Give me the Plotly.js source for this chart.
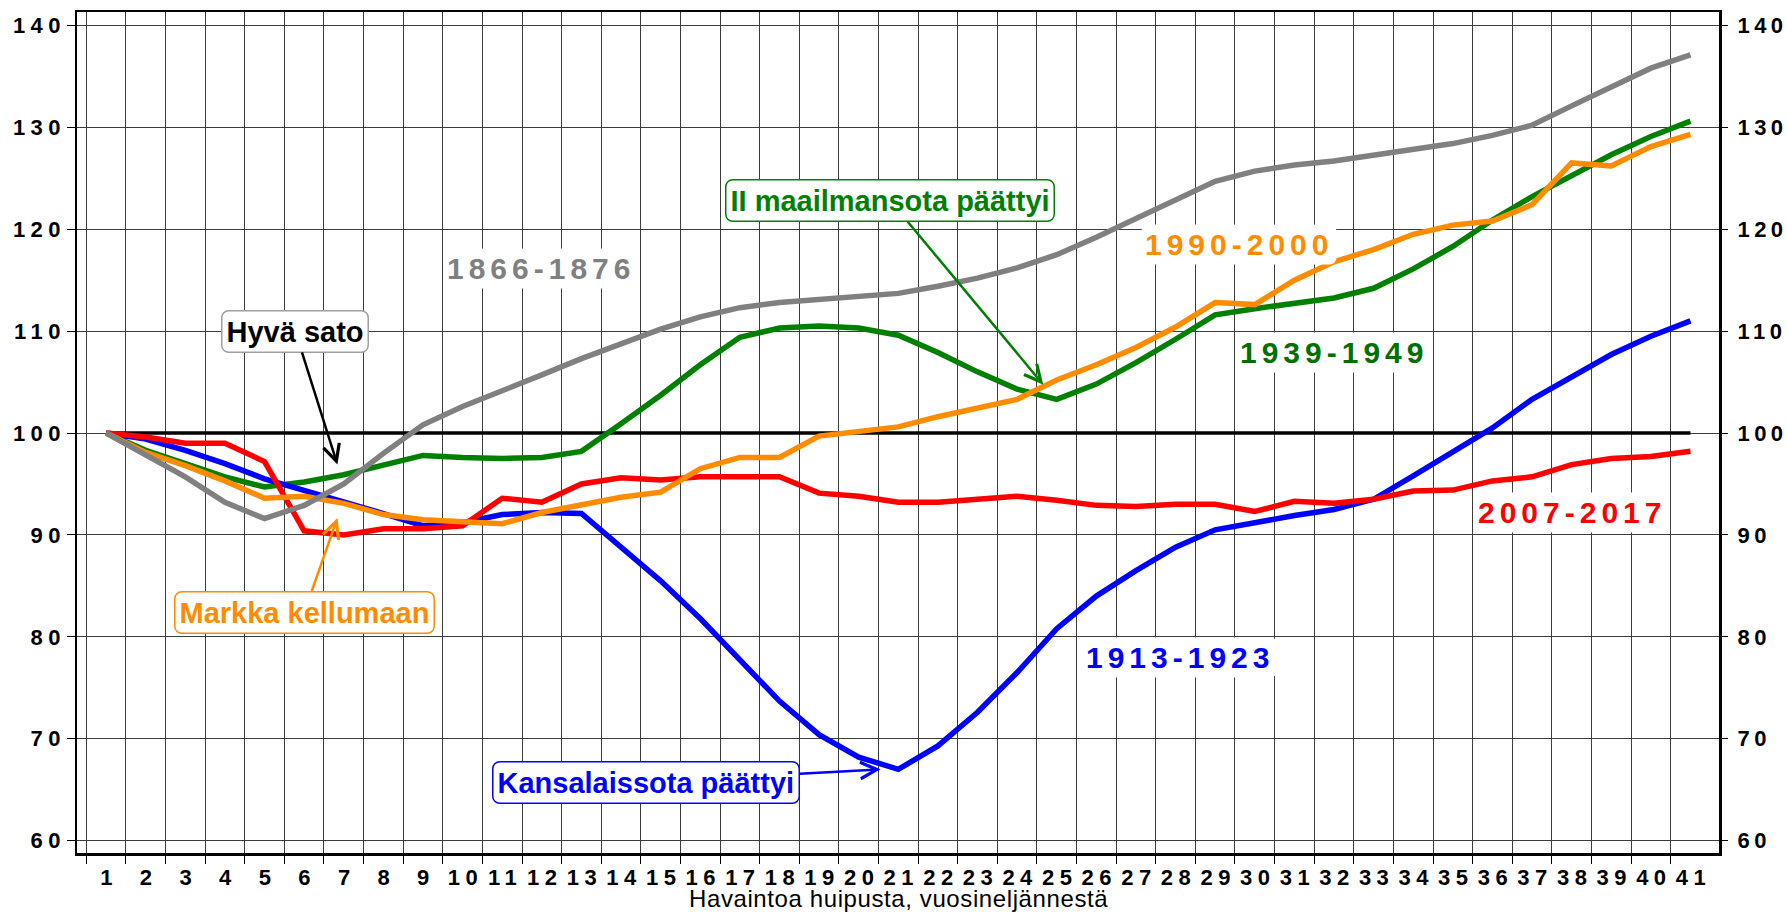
<!DOCTYPE html>
<html>
<head>
<meta charset="utf-8">
<script src="https://cdn.plot.ly/plotly-3.0.1.min.js"></script>
<style>
  body { margin: 0; background: #fff; }
  .ytick text, .x2tick text { letter-spacing: 5.5px; }
  .y2tick text { letter-spacing: 4.5px; }
  text.annotation-text[style*="font-size: 30px"] { letter-spacing: 5px; }
  text.annotation-text[style*="font-size: 24px"] { letter-spacing: 0.6px; }
  .annotation rect.bg { rx: 7px; ry: 7px; }
</style>
</head>
<body>
<div id="chart" style="width:1787px;height:913px;"></div>
<script>
// quarters counted from the peak
let quarters = [1,2,3,4,5,6,7,8,9,10,11,12,13,14,15,16,17,18,19,20,
  21,22,23,24,25,26,27,28,29,30,31,32,33,34,35,36,37,38,39,40,41];

let base = 100;

let p1866 = [100,97.8,95.7,93.2,91.6,92.9,95.0,98.0,100.8,102.6,104.1,105.7,107.3,108.8,110.2,111.4,
  112.3,112.8,113.1,113.4,113.7,114.4,115.2,116.2,117.5,119.2,121.0,122.9,124.7,125.7,126.3,
  126.7,127.3,127.9,128.4,129.2,130.2,132.1,134.0,135.8,137.1];

let p1913 = [100,99.4,98.3,97.0,95.5,94.4,93.2,92.1,90.9,91.2,92.0,92.2,92.1,88.8,85.5,81.8,
  77.7,73.7,70.4,68.2,67.0,69.3,72.6,76.5,80.8,84.0,86.5,88.8,90.5,91.25,91.9,
  92.5,93.5,95.8,98.2,100.5,103.3,105.5,107.7,109.5,111.0];

let p1939 = [100,98.3,97.0,95.7,94.7,95.2,95.9,96.9,97.8,97.6,97.5,97.6,98.2,100.9,103.7,106.7,
  109.4,110.3,110.5,110.3,109.6,107.9,106.0,104.3,103.3,104.8,106.9,109.2,111.6,112.2,112.7,
  113.25,114.2,116.1,118.3,120.9,123.2,125.3,127.3,129.1,130.6];

let p1990 = [100,98.1,96.8,95.3,93.6,93.8,93.1,92.0,91.5,91.3,91.1,92.2,92.9,93.7,94.2,96.5,
  97.6,97.6,99.7,100.1,100.6,101.6,102.5,103.3,105.2,106.7,108.4,110.4,112.8,112.6,115.0,
  116.8,118.0,119.5,120.4,120.8,122.4,126.5,126.2,128.1,129.3];

let p2007 = [100,99.6,99.0,99.0,97.2,90.4,90.0,90.6,90.6,90.9,93.6,93.2,95.0,95.6,95.4,95.7,
  95.7,95.7,94.1,93.8,93.2,93.2,93.5,93.8,93.4,92.9,92.8,93.0,93.0,92.3,93.3,
  93.1,93.5,94.3,94.4,95.3,95.7,96.9,97.5,97.7,98.2];

let yTicks = [60,70,80,90,100,110,120,130,140];

let font = 'Liberation Sans, Arial, Helvetica, sans-serif';
let xRange = [0.265, 41.72];
let yRange = [58.79, 141.31];

function line(y, color){
  return {
    x: quarters,
    y: y,
    type: 'scatter',
    mode: 'lines',
    line: {color: color, width: 5.5},
    xaxis: 'x2',
    yaxis: 'y2',
    hoverinfo: 'skip'
  };
}

let data = [
  {
    x: [quarters[0], quarters[quarters.length-1]],
    y: [base, base],
    type: 'scatter',
    mode: 'lines',
    line: {color: '#000', width: 3.5},
    hoverinfo: 'skip'
  },
  line(p1939, '#008000'),
  line(p1913, '#0000ff'),
  line(p2007, '#ff0000'),
  line(p1990, '#ff8c00'),
  line(p1866, '#808080')
];

function period(text, x, y, color){
  return {
    x: x, y: y, xref: 'x', yref: 'y', text: text, showarrow: false,
    font: {family: font, size: 30, color: color, weight: 'bold'},
    bgcolor: '#fff', borderpad: 3
  };
}

function callout(text, x, y, ax, ay, color, border){
  return {
    x: x, y: y, xref: 'x', yref: 'y', text: text,
    showarrow: true, ax: ax, ay: ay,
    arrowhead: 5, arrowsize: 1.3, arrowwidth: 2.5, arrowcolor: color,
    font: {family: font, size: 29, color: color, weight: 'bold'},
    bgcolor: '#fff', bordercolor: border, borderwidth: 1.5, borderpad: 4
  };
}

let tickFont = {family: font, size: 22, color: '#000', weight: 'bold'};

let layout = {
  width: 1787,
  height: 913,
  margin: {l: 77, r: 68, t: 12, b: 60},
  paper_bgcolor: '#fff',
  plot_bgcolor: '#fff',
  showlegend: false,
  xaxis: {
    range: xRange,
    tickvals: quarters.map(q => q - 0.5),
    showticklabels: false,
    ticks: 'outside', ticklen: 8, tickwidth: 1, tickcolor: '#000',
    showgrid: true, gridcolor: '#3c3c3c', gridwidth: 1,
    zeroline: false,
    showline: true, linecolor: '#000', linewidth: 2.5, mirror: true
  },
  xaxis2: {
    overlaying: 'x',
    anchor: 'y2',
    range: xRange,
    tickvals: quarters,
    ticktext: quarters.map(String),
    ticks: '',
    tickfont: tickFont,
    ticklabelstandoff: 9,
    ticklabelshift: 3,
    showgrid: false, zeroline: false, showline: false
  },
  yaxis: {
    range: yRange,
    tickvals: yTicks,
    tickfont: tickFont,
    ticks: 'outside', ticklen: 8, tickwidth: 1, tickcolor: '#000',
    ticklabelstandoff: -4,
    showgrid: true, gridcolor: '#3c3c3c', gridwidth: 1,
    zeroline: false,
    showline: true, linecolor: '#000', linewidth: 2.5, mirror: true
  },
  yaxis2: {
    overlaying: 'y',
    anchor: 'x2',
    side: 'right',
    range: yRange,
    tickvals: yTicks,
    tickfont: tickFont,
    ticks: 'outside', ticklen: 8, tickwidth: 1, tickcolor: '#000',
    ticklabelstandoff: 5,
    showgrid: false, zeroline: false, showline: false
  },
  annotations: [
    period('1866-1876', 11.99, 116.1, '#808080'),
    period('1990-2000', 29.61, 118.48, '#ff8c00'),
    period('1939-1949', 32.0, 107.93, '#007000'),
    period('1913-1923', 28.12, 77.95, '#0000ff'),
    period('2007-2017', 38.02, 92.23, '#ff0000'),
    callout('Hyvä sato', 6.84, 96.9, -42, -133, '#000', '#a0a0a0'),
    callout('Markka kellumaan', 6.84, 91.66, -33, 94, '#ff8c00', '#ff8c00'),
    callout('II maailmansota päättyi', 24.66, 104.74, -153, -184, '#008000', '#008000'),
    callout('Kansalaissota päättyi', 20.55, 67.0, -234, 13, '#0000ff', '#0000ff'),
    {
      x: 0.5, y: -0.0545, xref: 'paper', yref: 'paper', yanchor: 'middle',
      text: 'Havaintoa huipusta, vuosineljännestä', showarrow: false,
      font: {family: font, size: 24, color: '#000'}
    }
  ]
};

Plotly.newPlot('chart', data, layout, {staticPlot: true});
</script>
</body>
</html>
